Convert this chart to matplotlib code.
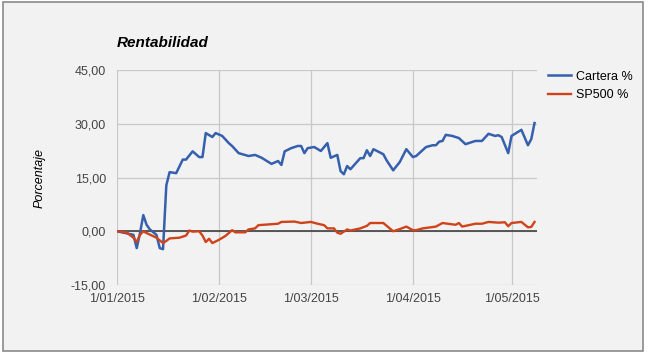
import pandas as pd
import matplotlib.pyplot as plt
import matplotlib.dates as mdates
from matplotlib.patches import Rectangle
from matplotlib.ticker import FuncFormatter

# Cartera % (portfolio return)
cartera_dates = [
    '2015-01-01', '2015-01-06', '2015-01-07', '2015-01-08', '2015-01-09',
    '2015-01-10', '2015-01-11', '2015-01-13', '2015-01-14', '2015-01-15',
    '2015-01-16', '2015-01-17', '2015-01-19', '2015-01-21', '2015-01-22',
    '2015-01-24', '2015-01-26', '2015-01-27', '2015-01-28', '2015-01-30',
    '2015-01-31', '2015-02-02', '2015-02-04', '2015-02-05', '2015-02-07',
    '2015-02-10', '2015-02-12', '2015-02-14', '2015-02-17', '2015-02-19',
    '2015-02-20', '2015-02-21', '2015-02-23', '2015-02-25', '2015-02-26',
    '2015-02-27', '2015-02-28', '2015-03-02', '2015-03-04', '2015-03-06',
    '2015-03-07', '2015-03-09', '2015-03-10', '2015-03-11', '2015-03-12',
    '2015-03-13', '2015-03-16', '2015-03-17', '2015-03-18', '2015-03-19',
    '2015-03-20', '2015-03-23', '2015-03-24', '2015-03-26', '2015-03-28',
    '2015-03-30', '2015-04-01', '2015-04-02', '2015-04-05', '2015-04-07',
    '2015-04-08', '2015-04-09', '2015-04-10', '2015-04-11', '2015-04-13',
    '2015-04-15', '2015-04-17', '2015-04-19', '2015-04-20', '2015-04-22',
    '2015-04-24', '2015-04-26', '2015-04-27', '2015-04-28', '2015-04-30',
    '2015-05-01', '2015-05-04', '2015-05-06', '2015-05-07', '2015-05-08',
]
cartera = [
    0.0, -1.0, -4.7, -0.5, 4.5,
    1.8, 0.5, -1.0, -4.7, -5.0,
    12.8, 16.5, 16.2, 20.0, 20.0,
    22.3, 20.7, 20.7, 27.4, 26.3,
    27.4, 26.6, 24.6, 23.8, 21.8,
    21.0, 21.3, 20.5, 18.8, 19.6,
    18.5, 22.3, 23.2, 23.8, 23.8,
    21.8, 23.2, 23.5, 22.4, 24.6,
    20.5, 21.3, 16.8, 15.9, 18.2,
    17.3, 20.4, 20.4, 22.6, 21.0,
    22.9, 21.5, 19.8, 17.0, 19.3,
    22.9, 20.7, 21.0, 23.5, 24.0,
    24.0, 25.0, 25.2, 26.9, 26.6,
    26.0, 24.3, 24.9, 25.2, 25.2,
    27.2, 26.6, 26.8, 26.3, 21.8,
    26.6, 28.3, 24.0, 25.7, 30.2,
]

# SP500 % (benchmark return)
sp500_dates = [
    '2015-01-01', '2015-01-04', '2015-01-06', '2015-01-07', '2015-01-08',
    '2015-01-09', '2015-01-10', '2015-01-13', '2015-01-15', '2015-01-16',
    '2015-01-17', '2015-01-20', '2015-01-22', '2015-01-23', '2015-01-24',
    '2015-01-26', '2015-01-27', '2015-01-28', '2015-01-29', '2015-01-30',
    '2015-02-01', '2015-02-03', '2015-02-04', '2015-02-05', '2015-02-06',
    '2015-02-09', '2015-02-10', '2015-02-12', '2015-02-13', '2015-02-19',
    '2015-02-20', '2015-02-24', '2015-02-26', '2015-03-01', '2015-03-03',
    '2015-03-05', '2015-03-06', '2015-03-08', '2015-03-09', '2015-03-10',
    '2015-03-12', '2015-03-13', '2015-03-16', '2015-03-18', '2015-03-19',
    '2015-03-23', '2015-03-26', '2015-03-28', '2015-03-30', '2015-04-01',
    '2015-04-02', '2015-04-04', '2015-04-08', '2015-04-10', '2015-04-14',
    '2015-04-15', '2015-04-16', '2015-04-20', '2015-04-22', '2015-04-24',
    '2015-04-27', '2015-04-29', '2015-04-30', '2015-05-01', '2015-05-04',
    '2015-05-06', '2015-05-07', '2015-05-08',
]
sp500 = [
    0.0, -0.4, -1.8, -3.0, -1.0,
    0.0, -0.5, -1.8, -3.3, -2.7,
    -2.0, -1.8, -1.2, 0.2, -0.1,
    0.0, -1.2, -3.0, -2.1, -3.3,
    -2.4, -1.3, -0.5, 0.3, -0.3,
    -0.3, 0.5, 0.8, 1.7, 2.1,
    2.6, 2.7, 2.3, 2.6, 2.1,
    1.7, 0.8, 0.8, -0.4, -0.7,
    0.5, 0.2, 0.8, 1.5, 2.3,
    2.3, 0.0, 0.6, 1.3, 0.3,
    0.3, 0.8, 1.3, 2.3, 1.8,
    2.3, 1.3, 2.1, 2.1, 2.6,
    2.4, 2.5, 1.4, 2.3, 2.6,
    1.1, 1.2, 2.6,
]

month_ticks = ['2015-01-01', '2015-02-01', '2015-03-01', '2015-04-01', '2015-05-01']
y_ticks = [-15, 0, 15, 30, 45]

bg = '#f2f2f2'
plt.rcParams['font.family'] = ['Liberation Sans', 'DejaVu Sans']

fig = plt.figure(figsize=(6.5, 3.55), dpi=100, facecolor='white')
# outer frame of the chart box
fig.patches.append(Rectangle((3 / 650, 1 - 351 / 355), 640 / 650, 349 / 355,
                             transform=fig.transFigure, facecolor=bg,
                             edgecolor='#8a8a8a', linewidth=1.2, zorder=-5))

ax = fig.add_axes([117 / 650, 1 - 285 / 355, 420 / 650, 215 / 355])
ax.set_facecolor(bg)

ax.plot(pd.to_datetime(cartera_dates), cartera, color='#3560ad', lw=1.8,
        label='Cartera %', zorder=3)
ax.plot(pd.to_datetime(sp500_dates), sp500, color='#d0431a', lw=1.7,
        label='SP500 %', zorder=3)

ax.set_ylim(-15, 45)
ax.set_xlim(pd.Timestamp('2015-01-01'), pd.Timestamp('2015-05-08 18:00'))
ax.set_yticks(y_ticks)
ax.yaxis.set_major_formatter(FuncFormatter(lambda v, p: f'{v:.2f}'.replace('.', ',')))
ax.set_xticks(pd.to_datetime(month_ticks))
ax.xaxis.set_major_formatter(FuncFormatter(
    lambda v, p: f'{mdates.num2date(v).day}/{mdates.num2date(v).month:02d}/{mdates.num2date(v).year}'))

ax.grid(True, color='#c8c8c8', lw=0.9, zorder=1)
ax.axhline(0, color='#404040', lw=1.2, zorder=2)
for s in ax.spines.values():
    s.set_visible(False)
ax.tick_params(length=0, labelsize=9, labelcolor='#444444')
ax.tick_params(axis='y', pad=8)
ax.tick_params(axis='x', pad=6)

ax.set_ylabel('Porcentaje', fontsize=9, style='italic', labelpad=18)
fig.text(117 / 650, 1 - 43 / 355, 'Rentabilidad', fontsize=11,
         fontweight='bold', style='italic', va='center', ha='left')

ax.legend(loc='upper left', bbox_to_anchor=(1.0, 1.05), frameon=False,
          fontsize=9, handlelength=1.8, handletextpad=0.4, labelspacing=0.55)

fig.savefig('out.png', dpi=100, facecolor='white')
